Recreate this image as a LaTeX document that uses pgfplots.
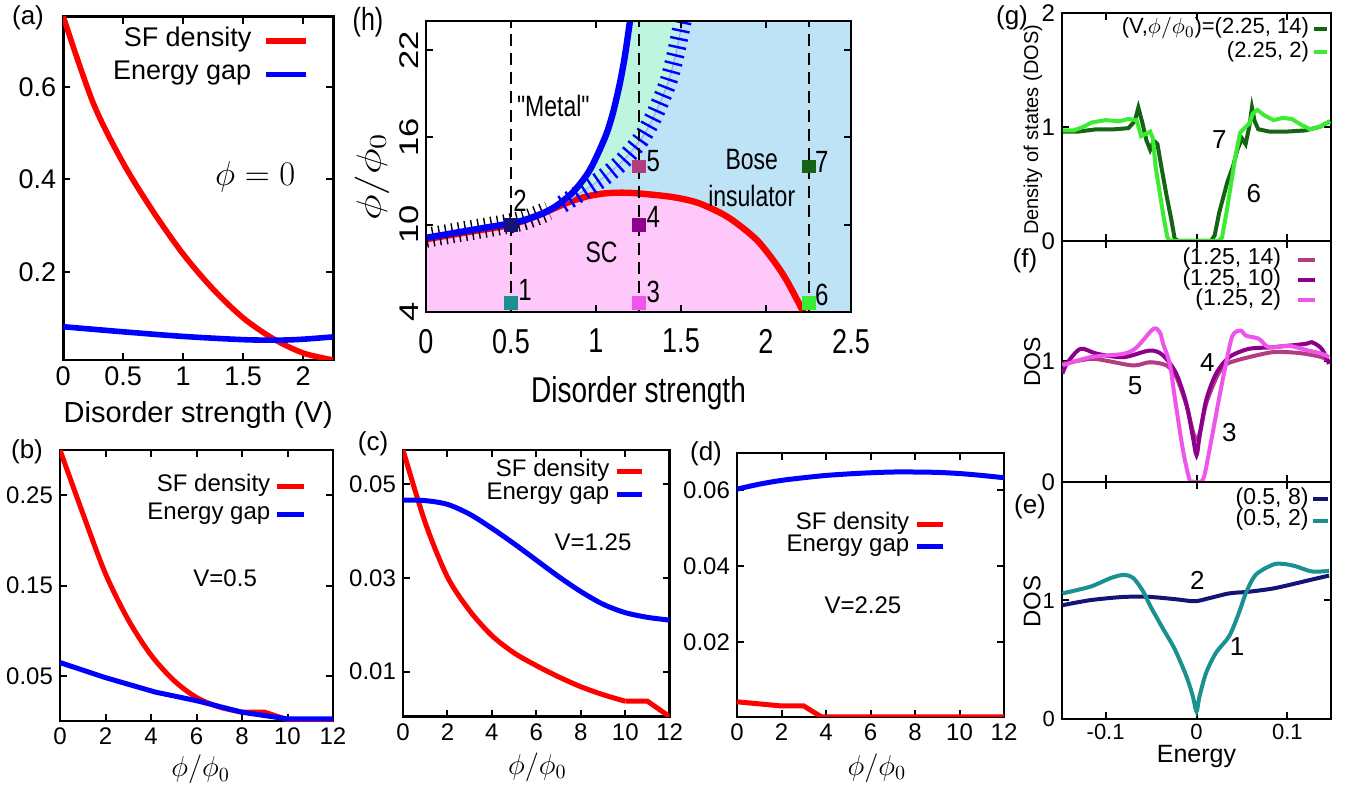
\documentclass[border=0pt]{standalone}
\usepackage{fontspec}
\setmainfont{Liberation Sans}
\usepackage{graphicx}
\usepackage{pgfplots}
\pgfplotsset{compat=1.18}

\definecolor{cred}{RGB}{255,0,0}
\definecolor{cblue}{RGB}{0,0,255}
\definecolor{dkgreen}{RGB}{20,100,20}
\definecolor{ltgreen}{RGB}{60,235,50}
\definecolor{mauve}{RGB}{180,60,130}
\definecolor{cpurple}{RGB}{140,0,140}
\definecolor{cviolet}{RGB}{240,85,235}
\definecolor{cnavy}{RGB}{20,20,120}
\definecolor{cteal}{RGB}{25,145,145}
\definecolor{pinkfill}{RGB}{255,200,250}
\definecolor{bluefill}{RGB}{190,226,246}
\definecolor{greenfill}{RGB}{190,245,222}

\newcommand{\fs}[1]{\fontsize{#1}{#1}\selectfont}
\newcommand{\sy}[1]{\scalebox{1}[1.28]{#1}}
\newcommand{\sx}[1]{\scalebox{1.28}[1]{#1}}

\pgfplotsset{
  gp/.style={
    scale only axis, anchor=south west,
    axis line style={line width=1.3pt},
    tick style={black, line width=1pt},
    tick align=inside, major tick length=3.5pt,
    scaled ticks=false,
    legend plot pos=right, legend cell align=right,
    legend style={draw=none, fill=none, inner sep=0pt, outer sep=0pt,
      nodes={inner sep=1pt, text height=0.72em, text depth=0.22em}},
  },
  lg/.style={legend image code/.code={\draw[##1] (0pt,0pt) -- (#1,0pt);}},
}

\begin{document}
\begin{tikzpicture}
\path[use as bounding box] (0,0) rectangle (677pt,393.5pt);

% ---------------- (a)
\begin{axis}[gp, at={(31.6pt,213.5pt)}, width=135pt, height=171.7pt,
  xmin=0, xmax=2.25, ymin=0.009, ymax=0.752,
  xtick={0,0.5,1,1.5,2}, xticklabels={0,0.5,1,1.5,2},
  ytick={0.2,0.4,0.6}, yticklabels={0.2,0.4,0.6},
  ticklabel style={font=\fs{13.5}},
  xlabel={Disorder strength (V)},
  xlabel style={font=\fs{14.5}, at={(axis description cs:0.5,-0.16)}, anchor=center},
  lg=20pt,
  legend style={at={(axis description cs:0.91,0.88)}, anchor=east, font=\fs{13.5}, row sep=5.3pt,
    /tikz/every odd column/.append style={column sep=5pt}}]
\addplot[cred, line width=2.8pt, smooth] coordinates {
 (0,0.752) (0.25,0.565) (0.5,0.435) (0.75,0.33) (1.0,0.238) (1.25,0.162) (1.5,0.1)
 (1.75,0.055) (2.0,0.024) (2.25,0.009)};
\addlegendentry{SF density}
\addplot[cblue, line width=2.8pt, smooth] coordinates {
 (0,0.081) (0.5,0.07) (1.0,0.06) (1.5,0.053) (1.8,0.052) (2.0,0.054) (2.25,0.059)};
\addlegendentry{Energy gap}
\node[font=\fs{16}] at (axis cs:1.6,0.406) {$\phi=0$};
\end{axis}

% ---------------- (h)
\begin{axis}[gp, at={(213pt,237.5pt)}, width=212.5pt, height=145.5pt,
  xmin=0, xmax=2.5, ymin=4, ymax=24,
  axis background/.style={fill=bluefill}, axis on top,
  xtick={0,0.5,1,1.5,2,2.5}, xticklabels={\sy{0},\sy{0.5},\sy{1},\sy{1.5},\sy{2},\sy{2.5}},
  ytick={4,10,16,22}, yticklabels={\sx{4},\sx{10},\sx{16},\sx{22}},
  xticklabel style={font=\fs{13.5}, yshift=-5pt},
  yticklabel style={font=\fs{13.5}, rotate=90, anchor=south},
  xlabel={\sy{Disorder strength}},
  xlabel style={font=\fs{14}, at={(axis description cs:0.5,-0.278)}, anchor=center},
  ylabel={\sx{$\phi/\phi_0$}},
  ylabel style={font=\fs{17}, at={(axis description cs:-0.127,0.464)}, anchor=center}]
% metal (white)
\addplot[fill=white, draw=none] coordinates {
 (0,9.1) (0.25,9.6) (0.5,10.1) (0.6,10.4) (0.7,10.85) (0.78,11.4) (0.87,12.3) (0.95,13.5)
 (1.0,14.6) (1.06,16.2) (1.1,17.7) (1.14,19.7) (1.17,21.6) (1.2,24) (0,24)} -- cycle;
% green
\addplot[fill=greenfill, draw=none] coordinates {
 (0.72,10.95) (0.78,11.4) (0.87,12.3) (0.95,13.5) (1.0,14.6) (1.06,16.2) (1.1,17.7) (1.14,19.7)
 (1.17,21.6) (1.2,24) (1.51,24) (1.47,21.8) (1.43,20.0) (1.38,18.5) (1.33,17.2) (1.26,15.8)
 (1.15,14.3) (1.05,13.3) (0.95,12.5) (0.87,11.9) (0.8,11.4)} -- cycle;
% pink SC
\addplot[fill=pinkfill, draw=none] coordinates {
 (0,4) (0,9.0) (0.25,9.5) (0.5,10.0) (0.65,10.6) (0.75,11.1) (0.85,11.6) (0.95,11.95)
 (1.05,12.15) (1.15,12.2) (1.25,12.15) (1.45,11.9) (1.6,11.5) (1.75,10.7) (1.85,9.9)
 (1.95,8.9) (2.04,7.6) (2.12,6.2) (2.22,4.0)} -- cycle;
% red boundary
\addplot[cred, line width=3.2pt, smooth] coordinates {
 (0,9.0) (0.25,9.5) (0.5,10.0) (0.65,10.6) (0.75,11.1) (0.85,11.6) (0.95,11.95)
 (1.05,12.15) (1.15,12.2) (1.25,12.15) (1.45,11.9) (1.6,11.5) (1.75,10.7) (1.85,9.9)
 (1.95,8.9) (2.04,7.6) (2.12,6.2) (2.22,4.0)};
% hatched boundary
\addplot[cblue!35, line width=0.6pt, smooth] coordinates {
 (0.72,10.95) (0.8,11.4) (0.87,11.9) (0.95,12.5) (1.05,13.3) (1.15,14.3) (1.26,15.8)
 (1.33,17.2) (1.38,18.5) (1.43,20.0) (1.47,21.8) (1.51,24)};
\addplot[cblue, line width=9pt, smooth, line cap=butt, dash pattern=on 1.2pt off 3pt] coordinates {
 (0.8,11.4) (0.87,11.9) (0.95,12.5) (1.05,13.3) (1.15,14.3) (1.26,15.8)
 (1.33,17.2) (1.38,18.5) (1.43,20.0) (1.47,21.8) (1.51,24)};
% black hatching along left boundary
\addplot[black, line width=10pt, smooth, line cap=butt, dash pattern=on 0.7pt off 2.6pt] coordinates {
 (0,9.1) (0.25,9.6) (0.5,10.1) (0.6,10.4) (0.72,10.95)};
% blue metal boundary
\addplot[cblue, line width=3.2pt, smooth] coordinates {
 (0,9.1) (0.25,9.6) (0.5,10.1) (0.6,10.4) (0.7,10.85) (0.78,11.4) (0.87,12.3) (0.95,13.5)
 (1.0,14.6) (1.06,16.2) (1.1,17.7) (1.14,19.7) (1.17,21.6) (1.2,24)};
% dashed lines
\addplot[black, line width=1pt, dash pattern=on 6pt off 3.5pt] coordinates {(0.5,4) (0.5,24)};
\addplot[black, line width=1pt, dash pattern=on 6pt off 3.5pt] coordinates {(1.25,4) (1.25,24)};
\addplot[black, line width=1pt, dash pattern=on 6pt off 3.5pt] coordinates {(2.25,4) (2.25,24)};
% points
\addplot[only marks, mark=square*, mark size=3.2pt, color=cteal] coordinates {(0.5,4.6)};
\addplot[only marks, mark=square*, mark size=3.2pt, color=cnavy] coordinates {(0.5,10)};
\addplot[only marks, mark=square*, mark size=3.2pt, color=cviolet] coordinates {(1.25,4.6)};
\addplot[only marks, mark=square*, mark size=3.2pt, color=cpurple] coordinates {(1.25,10)};
\addplot[only marks, mark=square*, mark size=3.2pt, color=mauve] coordinates {(1.25,14)};
\addplot[only marks, mark=square*, mark size=3.2pt, color=ltgreen] coordinates {(2.25,4.6)};
\addplot[only marks, mark=square*, mark size=3.2pt, color=dkgreen] coordinates {(2.25,14)};
\node[font=\fs{12}] at (axis cs:0.582,5.5) {\sy{1}};
\node[font=\fs{12}] at (axis cs:0.553,11.67) {\sy{2}};
\node[font=\fs{12}] at (axis cs:1.337,5.39) {\sy{3}};
\node[font=\fs{12}] at (axis cs:1.337,10.53) {\sy{4}};
\node[font=\fs{12}] at (axis cs:1.337,14.4) {\sy{5}};
\node[font=\fs{12}] at (axis cs:2.328,5.16) {\sy{6}};
\node[font=\fs{12}] at (axis cs:2.328,14.3) {\sy{7}};
\node[font=\fs{11.5}] at (axis cs:0.749,18.18) {\sy{\textquotedbl Metal\textquotedbl}};
\node[font=\fs{11.5}] at (axis cs:1.033,8.13) {\sy{SC}};
\node[font=\fs{11.5}] at (axis cs:1.916,14.5) {\sy{Bose}};
\node[font=\fs{11.5}] at (axis cs:1.916,12.0) {\sy{insulator}};
\end{axis}

% ---------------- (b)
\begin{axis}[gp, at={(30pt,33pt)}, width=136.5pt, height=135.5pt,
  xmin=0, xmax=12, ymin=0, ymax=0.3,
  xtick={0,2,4,6,8,10,12}, xticklabels={0,2,4,6,8,10,12},
  ytick={0.05,0.15,0.25}, yticklabels={0.05,0.15,0.25},
  ticklabel style={font=\fs{12}},
  xlabel={$\phi/\phi_0$},
  xlabel style={font=\fs{14}, at={(axis description cs:0.515,-0.18)}, anchor=center},
  lg=13.5pt,
  legend style={at={(axis description cs:0.902,0.8125)}, anchor=east, font=\fs{12}, row sep=2.7pt,
    /tikz/every odd column/.append style={column sep=1pt}}]
\addplot[cred, line width=2.5pt, smooth] coordinates {
 (0,0.3) (1,0.23) (2,0.163) (3,0.112) (4,0.073) (5,0.045) (6,0.026) (7,0.0155) (8,0.0097)};
\addlegendentry{SF density}
\addplot[cred, line width=2.5pt, forget plot] coordinates {
 (8,0.0097) (9,0.0097) (10,0.0015) (12,0.001)};
\addplot[cblue, line width=2.5pt] coordinates {
 (0,0.0647) (2,0.048) (4.19,0.032) (6,0.0225) (8,0.0097) (10,0.0023) (12,0.0023)};
\addlegendentry{Energy gap}
\node[font=\fs{12}] at (axis cs:7.26,0.158) {V=0.5};
\end{axis}

% ---------------- (c)
\begin{axis}[gp, at={(201.5pt,35.15pt)}, width=133.35pt, height=133.35pt,
  xmin=0, xmax=12, ymin=0.0004, ymax=0.0573,
  xtick={0,2,4,6,8,10,12}, xticklabels={0,2,4,6,8,10,12},
  ytick={0.01,0.03,0.05}, yticklabels={0.01,0.03,0.05},
  ticklabel style={font=\fs{12}},
  xlabel={$\phi/\phi_0$},
  xlabel style={font=\fs{14}, at={(axis description cs:0.504,-0.19)}, anchor=center},
  lg=12.5pt,
  legend style={at={(axis description cs:0.905,0.875)}, anchor=east, font=\fs{12}, row sep=0.2pt,
    /tikz/every odd column/.append style={column sep=1.5pt}}]
\addplot[cred, line width=2.5pt, smooth] coordinates {
 (0,0.0573) (1,0.0418) (2,0.0302) (3,0.0230) (4,0.0177) (5,0.0140) (6,0.0113) (7,0.0089)
 (8,0.0068) (9,0.0051) (10,0.0037)};
\addlegendentry{SF density}
\addplot[cred, line width=2.5pt, forget plot] coordinates {
 (10,0.0037) (11,0.0037) (12,0.0004)};
\addplot[cblue, line width=2.5pt, smooth] coordinates {
 (0,0.0466) (1,0.0465) (2,0.0457) (3,0.0436) (4,0.0406) (5,0.0373) (6,0.0338) (7,0.0303)
 (8,0.0271) (9,0.0244) (10,0.0226) (11,0.0216) (12,0.021)};
\addlegendentry{Energy gap}
\node[font=\fs{12}] at (axis cs:8.55,0.0377) {V=1.25};
\end{axis}

% ---------------- (d)
\begin{axis}[gp, at={(368.5pt,35pt)}, width=133.5pt, height=132pt,
  xmin=0, xmax=12, ymin=0.0003, ymax=0.0697,
  xtick={0,2,4,6,8,10,12}, xticklabels={0,2,4,6,8,10,12},
  ytick={0.02,0.04,0.06}, yticklabels={0.02,0.04,0.06},
  ticklabel style={font=\fs{12}},
  xlabel={$\phi/\phi_0$},
  xlabel style={font=\fs{14}, at={(axis description cs:0.524,-0.193)}, anchor=center},
  lg=13pt,
  legend style={at={(axis description cs:0.78,0.6875)}, anchor=east, font=\fs{12}, row sep=-0.8pt,
    /tikz/every odd column/.append style={column sep=1.5pt}}]
\addplot[cred, line width=2.5pt] coordinates {
 (0,0.0043) (2,0.0032) (3,0.0032) (3.8,0.0003) (12,0.0003)};
\addlegendentry{SF density}
\addplot[cblue, line width=2.5pt, smooth] coordinates {
 (0,0.0602) (1,0.0615) (2,0.0625) (3,0.0632) (4,0.0638) (5,0.0642) (6,0.0645) (7,0.0647)
 (8,0.0647) (9,0.0646) (10,0.0643) (11,0.0638) (12,0.0632)};
\addlegendentry{Energy gap}
\node[font=\fs{12}] at (axis cs:5.66,0.0297) {V=2.25};
\end{axis}

% ---------------- (g)
\begin{axis}[gp, at={(531pt,273pt)}, width=134.5pt, height=114pt,
  xmin=-0.148, xmax=0.148, ymin=0, ymax=2,
  xtick={-0.1,0,0.1}, xticklabels={},
  ytick={0,1,2}, yticklabels={0,1,2},
  ticklabel style={font=\fs{12}},
  ylabel={Density of states (DOS)},
  ylabel style={font=\fs{10}, at={(axis description cs:-0.108,0.487)}, anchor=center},
  lg=6.5pt,
  legend style={at={(axis description cs:0.992,0.879)}, anchor=east, font=\fs{11}, row sep=2.2pt,
    nodes={inner sep=0pt}, /tikz/every odd column/.append style={column sep=1.5pt}}]
\addplot[dkgreen, line width=2pt] coordinates {
 (-0.147,0.96) (-0.13,0.96) (-0.11,0.98) (-0.09,0.98) (-0.075,0.99) (-0.068,1.05) (-0.064,1.17)
 (-0.060,1.05) (-0.055,0.88) (-0.051,0.80) (-0.047,0.88) (-0.043,0.85) (-0.038,0.62) (-0.033,0.40)
 (-0.028,0.20) (-0.024,0.02) (-0.02,0.0) (0.016,0.0) (0.020,0.05) (0.025,0.25) (0.030,0.40)
 (0.034,0.52) (0.040,0.65) (0.045,0.80) (0.050,0.90) (0.054,0.85) (0.058,1.0) (0.061,1.17)
 (0.064,1.05) (0.068,0.98) (0.08,0.96) (0.10,0.96) (0.12,0.97) (0.135,1.0) (0.147,1.05)};
\addlegendentry{(V,$\phi/\phi_0$)=(2.25, 14)}
\addplot[ltgreen, line width=2pt] coordinates {
 (-0.147,0.97) (-0.135,0.97) (-0.125,1.00) (-0.115,1.04) (-0.10,1.06) (-0.085,1.05) (-0.075,1.07)
 (-0.066,1.06) (-0.061,0.92) (-0.056,0.94) (-0.051,0.96) (-0.048,0.90) (-0.045,0.65) (-0.040,0.40)
 (-0.036,0.20) (-0.032,0.03) (-0.029,0.0) (0.024,0.0) (0.028,0.03) (0.033,0.25) (0.038,0.50)
 (0.043,0.75) (0.048,0.95) (0.054,1.0) (0.058,1.03) (0.062,1.12) (0.067,1.15) (0.075,1.10)
 (0.085,1.06) (0.095,1.08) (0.105,1.07) (0.115,1.02) (0.125,0.98) (0.135,1.0) (0.147,1.05)};
\addlegendentry{(2.25, 2)}
\node[font=\fs{13}] at (axis cs:0.025,0.886) {7};
\node[font=\fs{13}] at (axis cs:0.063,0.42) {6};
\end{axis}

% ---------------- (f)
\begin{axis}[gp, at={(531pt,152.5pt)}, width=134.5pt, height=120.5pt,
  xmin=-0.148, xmax=0.148, ymin=0, ymax=2,
  xtick={-0.1,0,0.1}, xticklabels={},
  ytick={0,1,2}, yticklabels={0,1,},
  ticklabel style={font=\fs{12}},
  ylabel={DOS},
  ylabel style={font=\fs{11.5}, at={(axis description cs:-0.111,0.498)}, anchor=center},
  lg=8.5pt,
  legend style={at={(axis description cs:0.948,0.838)}, anchor=east, font=\fs{11.5}, row sep=0.7pt,
    nodes={inner sep=0pt}, /tikz/every odd column/.append style={column sep=7.5pt}}]
\addplot[mauve, line width=2pt, smooth, tension=0.5] coordinates {
 (-0.1476,0.981) (-0.1167,1.022) (-0.1003,1.008) (-0.0694,0.967) (-0.0513,0.994) (-0.033,0.967)
 (-0.0222,0.87) (-0.0112,0.64) (-0.004,0.42) (0,0.35) (0.004,0.42) (0.0106,0.65) (0.0215,0.86)
 (0.0287,0.95) (0.036,0.99) (0.0578,1.036) (0.0832,1.077) (0.1014,1.077) (0.1196,1.064)
 (0.1378,1.036) (0.1458,1.0)};
\addlegendentry{(1.25, 14)}
\addplot[cpurple, line width=2pt, smooth, tension=0.5] coordinates {
 (-0.1476,0.90) (-0.142,0.99) (-0.1276,1.105) (-0.1094,1.064) (-0.0803,1.036) (-0.0513,1.091)
 (-0.0367,1.05) (-0.0222,0.898) (-0.0112,0.65) (-0.004,0.374) (0,0.223) (0.0033,0.374)
 (0.0106,0.678) (0.0215,0.898) (0.036,1.036) (0.0578,1.105) (0.0832,1.118) (0.1196,1.146)
 (0.1269,1.16) (0.1378,1.105) (0.1458,0.98)};
\addlegendentry{(1.25, 10)}
\addplot[cviolet, line width=2pt, smooth, tension=0.5] coordinates {
 (-0.1476,0.967) (-0.1167,1.036) (-0.0803,1.064) (-0.0658,1.118) (-0.0476,1.27) (-0.0403,1.242)
 (-0.0367,1.146) (-0.0294,0.98) (-0.024,0.705) (-0.0149,0.264) (-0.0076,0.017) (-0.004,0.003)
 (0.0069,0.017) (0.0142,0.264) (0.0251,0.705) (0.0324,0.981) (0.0396,1.215) (0.0487,1.256)
 (0.0542,1.215) (0.0687,1.188) (0.0796,1.118) (0.1014,1.13) (0.1232,1.091) (0.1378,1.064)
 (0.1458,1.036)};
\addlegendentry{(1.25, 2)}
\node[font=\fs{13}] at (axis cs:-0.0676,0.80) {5};
\node[font=\fs{13}] at (axis cs:0.012,0.99) {4};
\node[font=\fs{13}] at (axis cs:0.036,0.41) {3};
\end{axis}

% ---------------- (e)
\begin{axis}[gp, at={(531pt,34pt)}, width=134.5pt, height=118.5pt,
  xmin=-0.148, xmax=0.148, ymin=0, ymax=2,
  xtick={-0.1,0,0.1}, xticklabels={-0.1,0,0.1},
  ytick={0,1,2}, yticklabels={0,1,},
  ticklabel style={font=\fs{11}},
  xticklabel style={yshift=1pt},
  xlabel={Energy},
  xlabel style={font=\fs{12.5}, at={(axis description cs:0.5,-0.158)}, anchor=center},
  ylabel={DOS},
  ylabel style={font=\fs{12}, at={(axis description cs:-0.111,0.494)}, anchor=center},
  lg=7.5pt,
  legend style={at={(axis description cs:0.998,0.882)}, anchor=east, font=\fs{11.5}, row sep=1.4pt,
    nodes={inner sep=0pt}, /tikz/every odd column/.append style={column sep=1.5pt}}]
\addplot[cnavy, line width=2pt, smooth] coordinates {
 (-0.1476,0.96) (-0.1167,1.003) (-0.0803,1.03) (-0.0513,1.03) (-0.0222,1.01) (-0.0018,0.994)
 (0.0142,1.02) (0.036,1.06) (0.0578,1.074) (0.0832,1.10) (0.1014,1.13) (0.1232,1.17) (0.1458,1.21)};
\addlegendentry{(0.5, 8)}
\addplot[cteal, line width=2pt, smooth, tension=0.5] coordinates {
 (-0.1476,1.06) (-0.1167,1.117) (-0.0949,1.188) (-0.0803,1.216) (-0.0694,1.188) (-0.0585,1.074)
 (-0.0513,0.96) (-0.0367,0.76) (-0.024,0.59) (-0.0112,0.362) (-0.004,0.19) (0,0.063)
 (0.0033,0.19) (0.0106,0.39) (0.0215,0.56) (0.036,0.70) (0.0469,0.90) (0.0542,1.06)
 (0.0651,1.216) (0.0832,1.30) (0.0941,1.31) (0.1087,1.29) (0.1269,1.245) (0.1458,1.25)};
\addlegendentry{(0.5, 2)}
\node[font=\fs{13}] at (axis cs:0.001,1.17) {2};
\node[font=\fs{13}] at (axis cs:0.0447,0.615) {1};
\end{axis}

% panel labels
\node[font=\fs{13}] at (14pt,384.5pt) {(a)};
\node[font=\fs{12.5}] at (184pt,382.5pt) {\sy{(h)}};
\node[font=\fs{13}] at (506pt,384.5pt) {(g)};
\node[font=\fs{13}] at (512.5pt,263pt) {(f)};
\node[font=\fs{13}] at (515pt,140pt) {(e)};
\node[font=\fs{13}] at (13.5pt,167.5pt) {(b)};
\node[font=\fs{13}] at (186.5pt,171.5pt) {(c)};
\node[font=\fs{13}] at (353pt,166.5pt) {(d)};
\end{tikzpicture}
\end{document}
